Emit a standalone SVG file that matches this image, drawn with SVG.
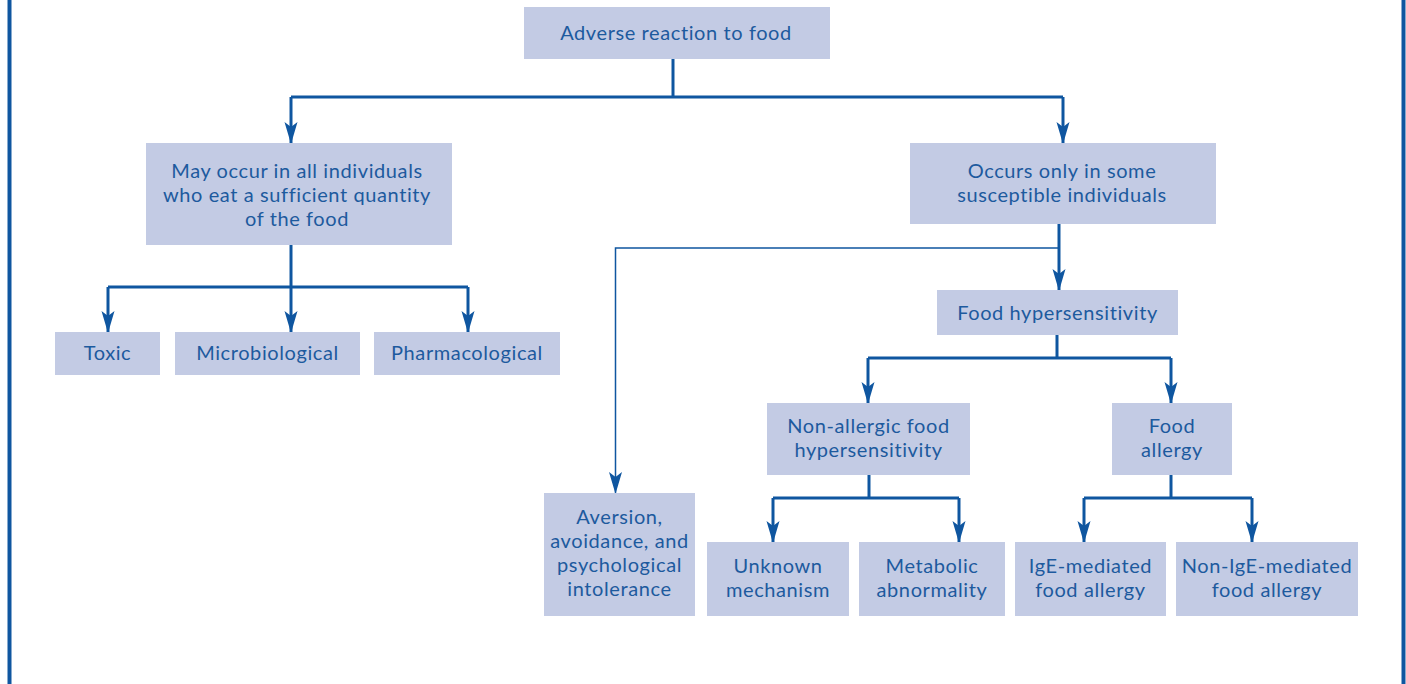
<svg xmlns="http://www.w3.org/2000/svg" width="1406" height="684" viewBox="0 0 1406 684">
<style>
.box{fill:#c3cbe4}
.t{font-family:Lato,"Open Sans","Liberation Sans",sans-serif;font-size:20px;letter-spacing:0.6px;font-variant-ligatures:none;font-feature-settings:"liga" 0;fill:#1d5a9e;text-anchor:middle}
.c{fill:none;stroke:#0f56a0;stroke-width:3}
.thin{fill:none;stroke:#0f56a0;stroke-width:1.5}
.frame{stroke:#0f56a0;stroke-width:4}
</style>
<defs>
<marker id="ar" markerUnits="userSpaceOnUse" markerWidth="24" markerHeight="16" viewBox="-23 -8 24 16" refX="0" refY="0" orient="auto" overflow="visible">
<path d="M1,0 L-21,-6.5 L-16,0 L-21,6.5 Z" fill="#0f56a0"/>
</marker>
</defs>
<rect width="1406" height="684" fill="#ffffff"/>
<line class="frame" x1="9.5" y1="0" x2="9.5" y2="684"/>
<line class="frame" x1="1403.5" y1="0" x2="1403.5" y2="684"/>
<g id="connectors">
<path class="c" d="M673,59 V97"/>
<path class="c" d="M291,97 H1063"/>
<path class="c" d="M291,97 V143" marker-end="url(#ar)"/>
<path class="c" d="M1063,97 V143" marker-end="url(#ar)"/>
<path class="c" d="M291,245 V287"/>
<path class="c" d="M108,287 H468"/>
<path class="c" d="M108,287 V332" marker-end="url(#ar)"/>
<path class="c" d="M291,287 V332" marker-end="url(#ar)"/>
<path class="c" d="M468,287 V332" marker-end="url(#ar)"/>
<path class="c" d="M1059,224 V290" marker-end="url(#ar)"/>
<path class="thin" d="M1059,248 H615.5 V493" marker-end="url(#ar)"/>
<path class="c" d="M1057,335 V358"/>
<path class="c" d="M868,358 H1171"/>
<path class="c" d="M868,358 V403" marker-end="url(#ar)"/>
<path class="c" d="M1171,358 V403" marker-end="url(#ar)"/>
<path class="c" d="M869,475 V498"/>
<path class="c" d="M773,498 H959"/>
<path class="c" d="M773,498 V542" marker-end="url(#ar)"/>
<path class="c" d="M959,498 V542" marker-end="url(#ar)"/>
<path class="c" d="M1171,475 V498"/>
<path class="c" d="M1084,498 H1252"/>
<path class="c" d="M1084,498 V542" marker-end="url(#ar)"/>
<path class="c" d="M1252,498 V542" marker-end="url(#ar)"/>
</g>
<g id="n-adverse"><rect class="box" x="524" y="7" width="306" height="52"/><text class="t" x="676" y="40">Adverse reaction to food</text></g>
<g id="n-all"><rect class="box" x="146" y="143" width="306" height="102"/>
<text class="t" x="297" y="178">May occur in all individuals</text>
<text class="t" x="297" y="202">who eat a sufficient quantity</text>
<text class="t" x="297" y="226">of the food</text></g>
<g id="n-some"><rect class="box" x="910" y="143" width="306" height="81"/>
<text class="t" x="1062" y="178">Occurs only in some</text>
<text class="t" x="1062" y="202">susceptible individuals</text></g>
<g id="n-toxic"><rect class="box" x="55" y="332" width="105" height="43"/><text class="t" x="107.5" y="360">Toxic</text></g>
<g id="n-micro"><rect class="box" x="175" y="332" width="185" height="43"/><text class="t" x="267.5" y="360">Microbiological</text></g>
<g id="n-pharma"><rect class="box" x="374" y="332" width="186" height="43"/><text class="t" x="467" y="360">Pharmacological</text></g>
<g id="n-fh"><rect class="box" x="937" y="290" width="241" height="45"/><text class="t" x="1057.5" y="320">Food hypersensitivity</text></g>
<g id="n-nafh"><rect class="box" x="767" y="403" width="203" height="72"/>
<text class="t" x="868.5" y="433">Non-allergic food</text>
<text class="t" x="868.5" y="457">hypersensitivity</text></g>
<g id="n-fa"><rect class="box" x="1112" y="403" width="120" height="72"/>
<text class="t" x="1172" y="433">Food</text>
<text class="t" x="1172" y="457">allergy</text></g>
<g id="n-aversion"><rect class="box" x="544" y="493" width="151" height="123"/>
<text class="t" x="619.5" y="524">Aversion,</text>
<text class="t" x="619.5" y="548">avoidance, and</text>
<text class="t" x="619.5" y="572">psychological</text>
<text class="t" x="619.5" y="596">intolerance</text></g>
<g id="n-unknown"><rect class="box" x="707" y="542" width="142" height="74"/>
<text class="t" x="778" y="573">Unknown</text>
<text class="t" x="778" y="597">mechanism</text></g>
<g id="n-metabolic"><rect class="box" x="859" y="542" width="146" height="74"/>
<text class="t" x="932" y="573">Metabolic</text>
<text class="t" x="932" y="597">abnormality</text></g>
<g id="n-ige"><rect class="box" x="1015" y="542" width="151" height="74"/>
<text class="t" x="1090.5" y="573">IgE-mediated</text>
<text class="t" x="1090.5" y="597">food allergy</text></g>
<g id="n-nonige"><rect class="box" x="1176" y="542" width="182" height="74"/>
<text class="t" x="1267" y="573">Non-IgE-mediated</text>
<text class="t" x="1267" y="597">food allergy</text></g>
</svg>
